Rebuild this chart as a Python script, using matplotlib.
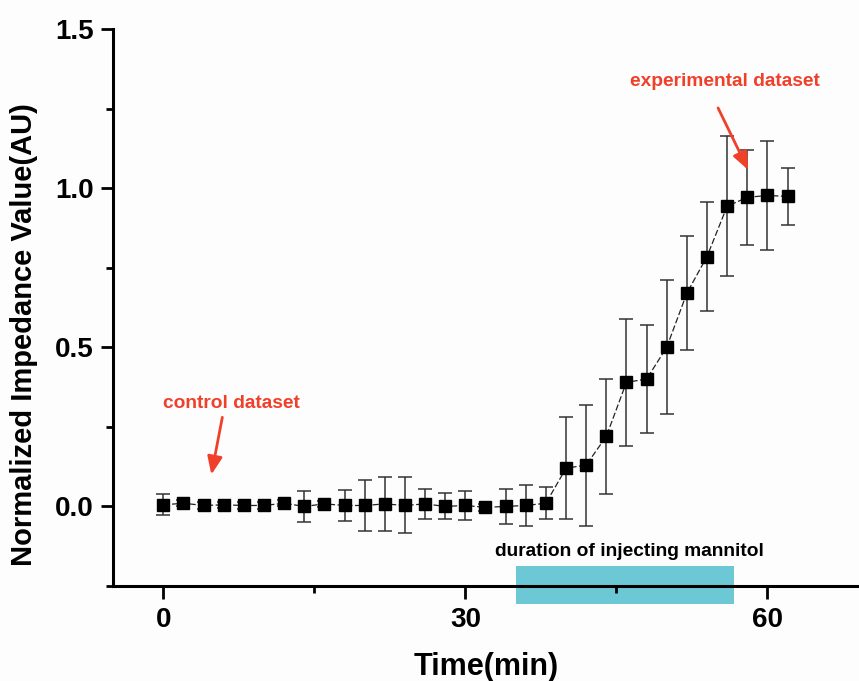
import matplotlib
matplotlib.use("Agg")
import matplotlib.pyplot as plt
from matplotlib.patches import Rectangle
import numpy as np

plt.rcParams['font.family'] = ['Liberation Sans', 'DejaVu Sans']

time_min = [0, 2, 4, 6, 8, 10, 12, 14, 16, 18, 20, 22, 24, 26, 28, 30,
            32, 34, 36, 38, 40, 42, 44, 46, 48, 50, 52, 54, 56, 58, 60, 62]
impedance = [0.005, 0.01, 0.003, 0.005, 0.003, 0.003, 0.01, 0.0, 0.008, 0.003,
             0.003, 0.008, 0.003, 0.008, 0.0, 0.003, -0.003, 0.0, 0.003, 0.01,
             0.12, 0.13, 0.22, 0.39, 0.40, 0.50, 0.67, 0.785, 0.943, 0.971, 0.977, 0.974]
error = [0.033, 0.01, 0.01, 0.01, 0.01, 0.01, 0.01, 0.049, 0.01, 0.049,
         0.079, 0.084, 0.088, 0.048, 0.041, 0.045, 0.01, 0.055, 0.063, 0.05,
         0.16, 0.19, 0.18, 0.20, 0.17, 0.21, 0.18, 0.17, 0.22, 0.15, 0.17, 0.09]
injection_start, injection_end = 35.0, 56.7

red = '#f0402a'

fig = plt.figure(figsize=(8.59, 6.81), dpi=100)
fig.patch.set_facecolor('#fdfdfe')
ax = fig.add_axes([113/859, 1-586/681, 1-113/859, (586-29)/681])
ax.set_facecolor('#fdfdfe')

ax.errorbar(time_min, impedance, yerr=error, fmt='none', ecolor='#333333',
            elinewidth=1.1, capsize=5, capthick=1.1, zorder=2)
ax.plot(time_min, impedance, color='#222222', lw=0.9, linestyle=(0, (5, 2)),
        marker='s', markersize=9, markerfacecolor='black',
        markeredgecolor='black', zorder=3)

ax.set_xlim(-5, 69.1)
ax.set_ylim(-0.25, 1.5)
ax.set_xticks([0, 30, 60])
ax.set_xticks([15, 45], minor=True)
ax.set_yticks([0.0, 0.5, 1.0, 1.5])
ax.set_yticks([-0.25, 0.25, 0.75, 1.25], minor=True)
ax.set_yticklabels(['0.0', '0.5', '1.0', '1.5'])

for s in ['top', 'right']:
    ax.spines[s].set_visible(False)
for s in ['left', 'bottom']:
    ax.spines[s].set_linewidth(2.2)

ax.tick_params(axis='both', which='major', direction='out', length=9, width=2,
               labelsize=20)
ax.tick_params(axis='both', which='minor', direction='out', length=5, width=2)
ax.tick_params(axis='x', which='major', pad=6)
ax.tick_params(axis='y', which='major', pad=5)
for lab in ax.get_xticklabels() + ax.get_yticklabels():
    lab.set_fontweight('bold')

ax.set_xlabel('Time(min)', fontsize=22, fontweight='bold', labelpad=14)
ax.set_ylabel('Normalized Impedance Value(AU)', fontsize=21, fontweight='bold')
ax.yaxis.set_label_coords(-0.1005, 0.452)

rect = Rectangle((injection_start, -0.305), injection_end - injection_start, 0.119,
                 facecolor='#6cc8d4', edgecolor='none', clip_on=False, zorder=1)
ax.add_patch(rect)
ax.text((injection_start + injection_end) / 2 + 0.4, -0.142,
        'duration of injecting mannitol', fontsize=13.8, fontweight='bold',
        ha='center', va='center', color='black')

ax.annotate('', xy=(4.77, 0.10), xytext=(5.86, 0.28),
            arrowprops=dict(arrowstyle='-|>,head_length=0.6,head_width=0.25', color=red,
                            lw=2, mutation_scale=18, shrinkA=0, shrinkB=0))
ax.text(6.75, 0.324, 'control dataset', fontsize=13.8, fontweight='bold',
        color=red, ha='center', va='center')

ax.annotate('', xy=(58.1, 1.057), xytext=(55.1, 1.252),
            arrowprops=dict(arrowstyle='-|>,head_length=0.6,head_width=0.25', color=red,
                            lw=2, mutation_scale=18, shrinkA=0, shrinkB=0))
ax.text(55.8, 1.336, 'experimental dataset', fontsize=13.8, fontweight='bold',
        color=red, ha='center', va='center')

fig.savefig('out.png', dpi=100, facecolor=fig.get_facecolor())
